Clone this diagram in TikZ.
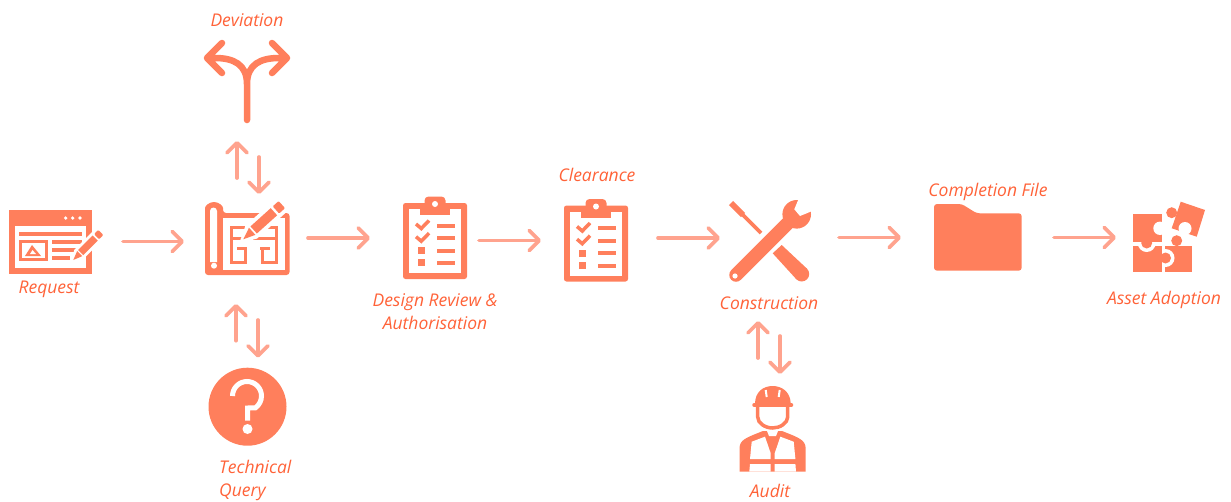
\documentclass[tikz,border=0pt]{standalone}
\usepackage{fontspec}
\usepackage{tikz}
\usetikzlibrary{
    arrows.meta,
    calc,
    positioning
}
\setmainfont{Open Sans}
\definecolor{iconcol}{HTML}{FF7F5C}
\definecolor{flowcol}{HTML}{FFA38E}
\definecolor{textcol}{HTML}{FF6238}
\tikzset{
    iconbox/.style={inner sep=0pt, outer sep=0pt},
    caption/.style={text=textcol, font=\fontsize{17.5}{23.5}\selectfont\itshape, inner sep=0pt, align=center},
    flow/.style={draw=flowcol, line width=3.7pt, line cap=round,
        -{Straight Barb[length=10pt,width=20pt,round]}},
    clipboard/.pic={
        \fill[iconcol, rounded corners=2.5pt] (-32,-35) rectangle (32,41);
        \fill[white] (-26,-29) rectangle (26,35);
        \fill[iconcol, rounded corners=4pt] (-10.5,-41.5) rectangle (10.5,-26);
        \fill[iconcol] (-15,-30) rectangle (15,-23);
        \fill[white] (0,-34) circle (3);
        \foreach \y in {-12.3,0.3,12.7,25} {
            \draw[iconcol, line width=4pt] (2,\y) -- (19.5,\y);
        }
        \foreach \y in {0,12.7} {
            \draw[iconcol, line width=3.5pt] (-19,-14+\y) -- (-13.7,-9.5+\y) -- (-6,-17.5+\y);
        }
        \foreach \y in {12.7,24.7} {
            \fill[iconcol] (-17.2,\y-3.5) rectangle (-10.2,\y+3.5);
        }
    },
    pencil/.pic={
        \fill[white] (-4,0) -- (8,-6.5) -- (43,-6.5) -- (43,6.5) -- (8,6.5) -- cycle;
        \fill[iconcol] (0,0) -- (9,-3.6) -- (9,3.6) -- cycle;
        \fill[iconcol] (10.5,-3.6) -- (31,-3.6) -- (31,3.6) -- (10.5,3.6) -- cycle;
        \fill[iconcol, rounded corners=1pt] (33,-3.6) -- (39,-3.6) -- (39,3.6) -- (33,3.6) -- cycle;
    }
}
\begin{document}
\begin{tikzpicture}[x=1pt, y=-1pt]
    \useasboundingbox (0,0) rectangle (1231,501);

    \node[iconbox, minimum width=93pt, minimum height=65pt] (request) at (55.5,241.5) {};
    \node[iconbox, minimum width=85pt, minimum height=76pt] (plan) at (247.5,238) {};
    \node[iconbox, minimum width=87pt, minimum height=83pt] (deviation) at (247.5,81.5) {};
    \node[iconbox, circle, fill=iconcol, minimum size=78pt] (query) at (247.5,406.7) {};
    \node[iconbox, minimum width=64pt, minimum height=82pt] (review) at (435,238) {};
    \node[iconbox, minimum width=64pt, minimum height=83pt] (clearance) at (596,240.5) {};
    \node[iconbox, minimum width=83pt, minimum height=85pt] (construction) at (769.5,242.5) {};
    \node[iconbox, minimum width=67pt, minimum height=87pt] (auditor) at (772.5,428.5) {};
    \node[iconbox, minimum width=88pt, minimum height=67pt] (folder) at (978,237.5) {};
    \node[iconbox, minimum width=72pt, minimum height=70pt] (puzzle) at (1169,237) {};

    \node[caption] (requestlabel) at (49,289.5) {Request};
    \node[caption] (deviationlabel) at (247,20) {Deviation};
    \node[caption, align=left, anchor=west] (querylabel) at (219,480.5) {Technical\\Query};
    \node[caption] (reviewlabel) at (435,311.5) {Design Review \&\\Authorisation};
    \node[caption] (clearancelabel) at (597,175) {Clearance};
    \node[caption] (constructionlabel) at (769,303) {Construction};
    \node[caption] (auditlabel) at (770,491) {Audit};
    \node[caption] (folderlabel) at (988,191.5) {Completion File};
    \node[caption] (puzzlelabel) at (1164,299.5) {Asset Adoption};

    \fill[iconcol] (9,210) rectangle (92,274);
    \fill[white] (15,226) rectangle (86,268);
    \foreach \x in {65.7,72.7,80} {
        \fill[white] (\x,218) circle (1.8);
    }
    \fill[iconcol] (18.5,231.5) rectangle (82,236);
    \fill[iconcol] (19,240) rectangle (48,261);
    \fill[white] (22,243) rectangle (45,258);
    \fill[iconcol] (25,256) -- (32,245) -- (41,256) -- cycle;
    \fill[white] (30,254) -- (32.5,250) -- (36,254) -- cycle;
    \fill[iconcol] (52,240) rectangle (82,244);
    \fill[iconcol] (52,248) rectangle (78,252);
    \fill[iconcol] (52,256) rectangle (70,260);
    \pic[rotate=45] at (73.3,260) {pencil};

    \fill[iconcol, rounded corners=3pt] (205,275) -- (205,211) arc[start angle=180, end angle=360, radius=9] -- (223,213) -- (289.5,213) -- (289.5,275) -- cycle;
    \fill[white] (223,218) rectangle (284.5,270);
    \fill[white] (210,211) arc[start angle=180, end angle=360, radius=3.5] -- (217,262) -- (210,262) -- cycle;
    \fill[white] (214,265.7) circle (3);
    \draw[iconcol, line width=3pt]
        (245,227) -- (231,227) -- (231,262) -- (245,262) -- (245,248) -- (237,248)
        (231,238) -- (243,238)
        (260,227) -- (276,227) -- (276,262) -- (262,262) -- (262,248)
        (260,248) -- (270,248)
        (253,238) -- (276,238);
    \pic[rotate=42, scale=1.33] at (243.3,239.3) {pencil};

    \draw[iconcol, line width=6.5pt, line cap=round, line join=round]
        (222,43) -- (207,58) -- (222,73)
        (272,43) -- (287,58) -- (272,73)
        (207,58) -- (215,58) .. controls (233,58) and (247,64) .. (247,84) -- (247,120)
        (287,58) -- (279,58) .. controls (261,58) and (247,64) .. (247,84);

    \draw[white, line width=5pt] (232.5,396) arc[start angle=180, end angle=415, radius=14.5] -- (247.5,408) -- (247.5,420.5);
    \fill[white] (247.5,429) circle (5);

    \pic at (435,238) {clipboard};
    \pic at (596,240.5) {clipboard};

    \draw[iconcol, line width=6pt] (731,203) -- (743,215);
    \draw[iconcol, line width=3.6pt] (740,212) -- (761,233);
    \fill[iconcol] (772.7,253.3) -- (781.7,245) -- (807,268.7) -- (796.4,279.3) -- cycle;
    \fill[iconcol] (801.7,274) circle (7.5);
    \draw[iconcol, line width=13.5pt, line cap=round] (736,275) -- (790,221);
    \fill[iconcol] (796.7,214.3) circle (14.3);
    \fill[white] (799,198) -- (794.3,209.3) -- (800,216) -- (813,210.7) -- (813,198) -- cycle;
    \fill[white] (735,276) circle (2.6);

    \fill[iconcol] (739.5,471.7) -- (739.5,448) .. controls (740,440) and (745,438) .. (763,431) -- (782,431) .. controls (800,438) and (805,440) .. (805.7,448) -- (805.7,471.7) -- cycle;
    \fill[white] (751.7,441.7) -- (765,436.7) -- (770.7,453.3) -- (770.7,459) -- (750,459) -- cycle;
    \fill[white] (793.7,441.7) -- (780.3,436.7) -- (774.7,453.3) -- (774.7,459) -- (795.4,459) -- cycle;
    \fill[white] (750,464) -- (770.7,464) -- (770.7,471.7) -- (749.3,471.7) -- cycle;
    \fill[white] (774.7,464) -- (795.4,464) -- (796,471.7) -- (774.7,471.7) -- cycle;
    \fill[white] (767,431) -- (778,431) -- (776,436) -- (769,436) -- cycle;
    \fill[iconcol] (755,404) .. controls (755,392) and (763,386) .. (772.7,386) .. controls (782,386) and (790.7,392) .. (790.7,404) -- cycle;
    \draw[iconcol, line width=3.5pt, line cap=round] (754,405) -- (791.5,405);
    \draw[white, line width=2pt] (765.7,390) -- (766.7,397) (779.7,390) -- (778.7,397);
    \draw[iconcol, line width=3.5pt] (757.7,406.7) -- (757.7,417) .. controls (757.7,423) and (765,428) .. (772.7,428) .. controls (780,428) and (787.7,423) .. (787.7,417) -- (787.7,406.7);

    \fill[iconcol, rounded corners=3pt] (934,204) -- (961.7,204) -- (976.7,213.3) -- (1021.7,213.3) -- (1021.7,270.7) -- (934,270.7) -- cycle;

    \fill[iconcol] (1165,246) rectangle (1191.7,272.3);
    \fill[iconcol] (1176.7,240.7) circle (5.5);
    \fill[white] (1165.5,258) circle (9);
    \fill[iconcol] (1132.7,246) rectangle (1161.7,272.3);
    \fill[iconcol] (1165.5,258) circle (5.5);
    \fill[white] (1146.7,243) circle (9);
    \fill[iconcol] (1132.7,214) rectangle (1161.7,241.7);
    \fill[iconcol] (1146.7,243) circle (5.5);
    \fill[white] (1160,228.3) circle (6.7);
    \fill[iconcol] (1180.7,201.7) -- (1205,210) -- (1196.7,236.7) -- (1171.7,228.3) -- cycle;
    \fill[iconcol] (1171.7,212.7) circle (5.5);
    \fill[white] (1185,228.5) circle (6.5);

    \draw[flow, shorten <=21pt, shorten >=21pt] (request.east) -- (request.east -| plan.west);
    \draw[flow, shorten <=18pt, shorten >=33pt] (plan.east) -- (plan.east -| review.west);
    \draw[flow, shorten <=12pt, shorten >=23pt] (clearance.west -| review.east) -- (clearance.west);
    \draw[flow, shorten <=30pt, shorten >=8pt] ([yshift=2.5pt]clearance.east) -- ([yshift=2.5pt]clearance.east -| construction.west);
    \draw[flow, shorten <=28pt, shorten >=33pt] (folder.west -| construction.east) -- (folder.west);
    \draw[flow, shorten <=32pt, shorten >=17pt] (folder.east) -- (folder.east -| puzzle.west);

    \draw[flow, shorten <=22pt, shorten >=18pt] ([xshift=-10.5pt]plan.north) -- ([xshift=-10.5pt]deviation.south);
    \draw[flow, shorten <=34pt, shorten >=6pt] ([xshift=11.5pt]deviation.south) -- ([xshift=11.5pt]plan.north);
    \draw[flow, shorten <=27pt, shorten >=28pt] ([xshift=-11.5pt]query.north) -- ([xshift=-11.5pt]plan.south);
    \draw[flow, shorten <=44pt, shorten >=10pt] ([xshift=10.5pt]plan.south) -- ([xshift=10.5pt]query.north);
    \draw[flow, shorten <=27pt, shorten >=36pt] ([xshift=-14.5pt]auditor.north) -- ([xshift=-11.5pt]construction.south);
    \draw[flow, shorten <=51pt, shorten >=11pt] ([xshift=10.5pt]construction.south) -- ([xshift=7.5pt]auditor.north);
\end{tikzpicture}
\end{document}
